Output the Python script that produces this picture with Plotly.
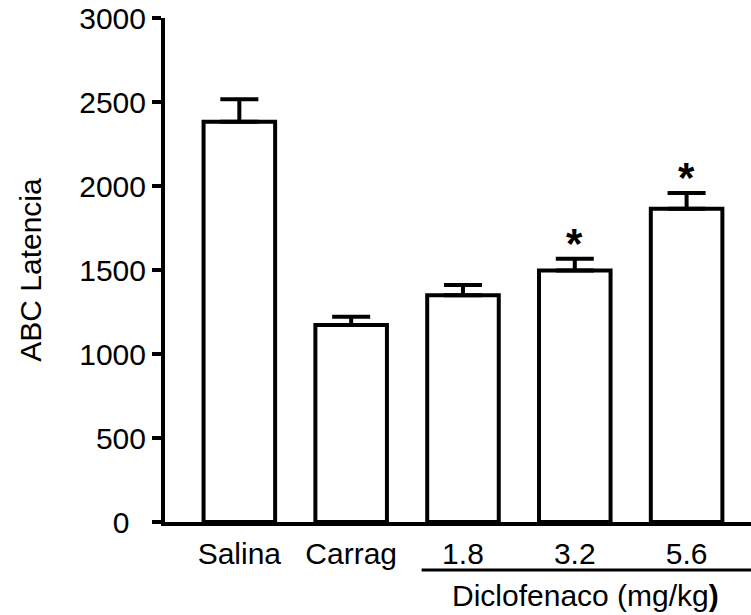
import plotly.graph_objects as go

categories = ["Salina", "Carrag", "1.8", "3.2", "5.6"]
means = [2383, 1172, 1350, 1497, 1864]
errors = [133, 50, 60, 70, 94]
significant = [False, False, False, True, True]
y_tickvals = [0, 500, 1000, 1500, 2000, 2500, 3000]
y_ticktext = ["0\u00a0\u00a0", "500", "1000", "1500", "2000", "2500", "3000"]
group_label = "Diclofenaco (mg/kg<b>)</b>"
y_title = "ABC Latencia"

FONT = "Liberation Sans, Arial, sans-serif"
FS = 30

fig = go.Figure()
fig.add_trace(go.Bar(
    x=list(range(len(categories))),
    y=means,
    width=0.64,
    marker=dict(color="white", line=dict(color="black", width=4)),
    error_y=dict(type="data", array=errors, arrayminus=[0] * len(errors),
                 symmetric=False, color="black", thickness=4, width=19),
))

for i, (m, e, s) in enumerate(zip(means, errors, significant)):
    if s:
        fig.add_annotation(x=i, y=m + e, text="<b>*</b>", showarrow=False,
                           xref="x", yref="y", yanchor="bottom", yshift=-10,
                           font=dict(family=FONT, size=42, color="black"))

# group label and bracket line
fig.add_shape(type="line", xref="x", yref="paper", x0=1.63, x1=4.6,
              y0=-0.095, y1=-0.095, line=dict(color="black", width=3))
fig.add_annotation(x=3.1, y=-0.11, xref="x", yref="paper", text=group_label,
                   showarrow=False, yanchor="top",
                   font=dict(family=FONT, size=FS, color="black"))

fig.update_layout(
    width=751, height=615,
    margin=dict(l=165, r=0, t=18, b=93),
    paper_bgcolor="white", plot_bgcolor="white",
    showlegend=False,
    font=dict(family=FONT, size=FS, color="black"),
    xaxis=dict(range=[-0.665, 4.576], tickvals=list(range(len(categories))),
               ticktext=categories, showline=True, linecolor="black", linewidth=4,
               ticks="", showgrid=False, zeroline=False, tickfont=dict(size=FS),
               ticklabelstandoff=2),
    yaxis=dict(range=[0, 3000], tickvals=y_tickvals, ticktext=y_ticktext,
               showline=True, linecolor="black", linewidth=4, ticks="outside",
               ticklen=9, tickwidth=4, tickcolor="black", showgrid=False,
               zeroline=False, tickfont=dict(size=FS),
               title=dict(text=y_title, font=dict(size=FS), standoff=30)),
)

fig.write_html("out.html")
